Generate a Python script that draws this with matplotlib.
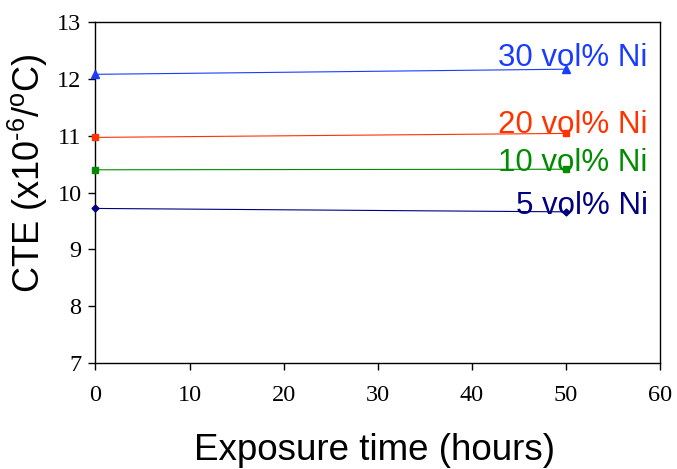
import matplotlib.pyplot as plt

plt.rcParams['mathtext.fontset'] = 'custom'
plt.rcParams['mathtext.rm'] = 'Liberation Sans'
plt.rcParams['mathtext.it'] = 'Liberation Sans'
plt.rcParams['mathtext.default'] = 'regular'

# exposure time (hours)
hours = [0, 50]

# CTE values (x10^-6 / oC)
cte_30 = [12.08, 12.17]
cte_20 = [10.97, 11.04]
cte_10 = [10.40, 10.41]
cte_5 = [9.72, 9.66]

labels = ['30 vol% Ni', '20 vol% Ni', '10 vol% Ni', '5 vol% Ni']
label_y = [12.22, 11.05, 10.37, 9.63]

series = [
    (cte_30, '#1a3cff', '^', 5.5),
    (cte_20, '#ff3300', 's', 4.5),
    (cte_10, '#008c00', 's', 4),
    (cte_5, '#000080', 'D', 3.5),
]

fig = plt.figure(figsize=(6.77, 4.69), dpi=100)
ax = fig.add_axes([0.141, 0.226, 0.834, 0.727])

for (vals, col, mk, ms), lab, ly in zip(series, labels, label_y):
    ax.plot(hours, vals, color=col, lw=0.8, marker=mk, ms=ms, clip_on=False, zorder=3)
    ax.text(58.7, ly, lab, color=col, ha='right', va='baseline',
            fontsize=22.5, family='Liberation Sans')

ax.set_xlim(0, 60)
ax.set_ylim(7, 13)
ax.set_xticks(range(0, 61, 10))
ax.set_yticks(range(7, 14))
ax.set_xticklabels([str(v) for v in range(0, 61, 10)], family='Liberation Serif', fontsize=17.5)
ax.set_yticklabels([str(v) for v in range(7, 14)], family='Liberation Serif', fontsize=17.5)

for s in ax.spines.values():
    s.set_linewidth(1.0)
    s.set_color('black')

ax.tick_params(axis='both', direction='out', length=5, width=1)
ax.tick_params(axis='x', pad=11)
ax.tick_params(axis='y', pad=5)

ax.set_xlabel('Exposure time (hours)', fontsize=26.5, family='Liberation Sans')
ax.xaxis.set_label_coords(0.494, -0.205)
ax.set_ylabel(r'CTE (x10$^{\text{-6}}$/$^{o}$C)', fontsize=26, family='Liberation Sans')
ax.yaxis.set_label_coords(-0.08, 0.557)

fig.savefig('out.png', dpi=100)
